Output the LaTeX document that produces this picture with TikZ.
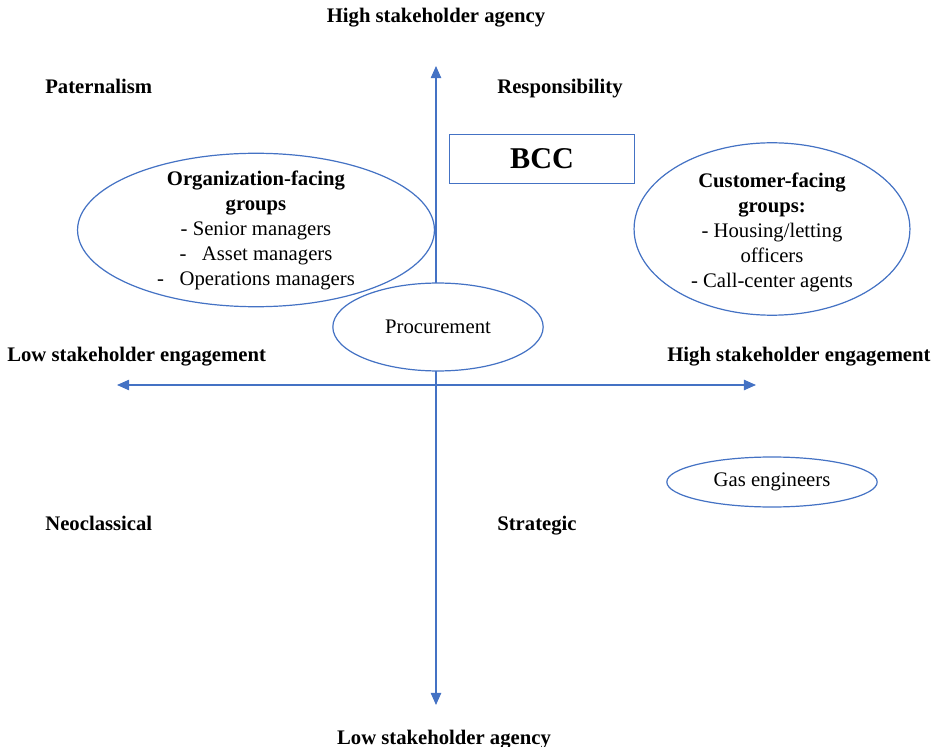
\documentclass[tikz,border=0pt]{standalone}
\usepackage{fontspec}
\setmainfont{Liberation Serif}
\usetikzlibrary{arrows.meta,shapes.geometric}
\definecolor{axisblue}{HTML}{4472C4}

\begin{document}
\begin{tikzpicture}[x=0.58pt,y=-0.58pt,
    font=\fontsize{12}{14.5}\selectfont,
    axis/.style={draw=axisblue,line width=0.8pt,
      {Triangle[length=7pt,width=6pt]}-{Triangle[length=7pt,width=6pt]}},
    oval/.style={ellipse,draw=axisblue,line width=0.7pt,fill=white,inner sep=0pt},
    tag/.style={font=\fontsize{12}{14.5}\selectfont\bfseries,inner sep=0pt}]
\useasboundingbox (0,0) rectangle (937,747);

% axes
\coordinate (top) at (436,66);
\coordinate (bottom) at (436,705);
\coordinate (left) at (117,385);
\coordinate (right) at (756,385);
\draw[axis] (top) -- (bottom);
\draw[axis] (left) -- (right);

% axis and quadrant labels
\node[tag,anchor=base] (hiagency) at (436,23) {High stakeholder agency};
\node[tag,anchor=base] (loagency) at (444,744) {Low stakeholder agency};
\node[tag,anchor=base west] (loeng) at (7,361) {Low stakeholder engagement};
\node[tag,anchor=base west] (hieng) at (667,361) {High stakeholder engagement};
\node[tag,anchor=base west] (pat) at (45,94) {Paternalism};
\node[tag,anchor=base west] (resp) at (497,94) {Responsibility};
\node[tag,anchor=base west] (neo) at (45,530) {Neoclassical};
\node[tag,anchor=base west] (strat) at (497,530) {Strategic};

% groups
\node[draw=axisblue,line width=0.7pt,minimum width=107pt,minimum height=28.5pt,
  font=\fontsize{17.5}{20}\selectfont\bfseries] (bcc) at (542,159) {BCC};
\node[oval,minimum width=207pt,minimum height=89pt] (org) at (256,230) {};
\node[align=center] (orgtext) at (org.center) {\textbf{Organization-facing}\\
  \textbf{groups}\\ - Senior managers\\ -\hspace{9pt}Asset managers\\
  -\hspace{9pt}Operations managers};
\node[oval,minimum width=160pt,minimum height=100pt] (cust) at (772,229) {};
\node[align=center] (custtext) at (772,232) {\textbf{Customer-facing}\\
  \textbf{groups:}\\ - Housing/letting\\ officers\\ - Call-center agents};
\node[oval,minimum width=122pt,minimum height=51pt] (proc) at (438,327) {Procurement};
\node[oval,minimum width=122pt,minimum height=29pt] (gas) at (772,482) {Gas engineers};
\end{tikzpicture}
\end{document}
